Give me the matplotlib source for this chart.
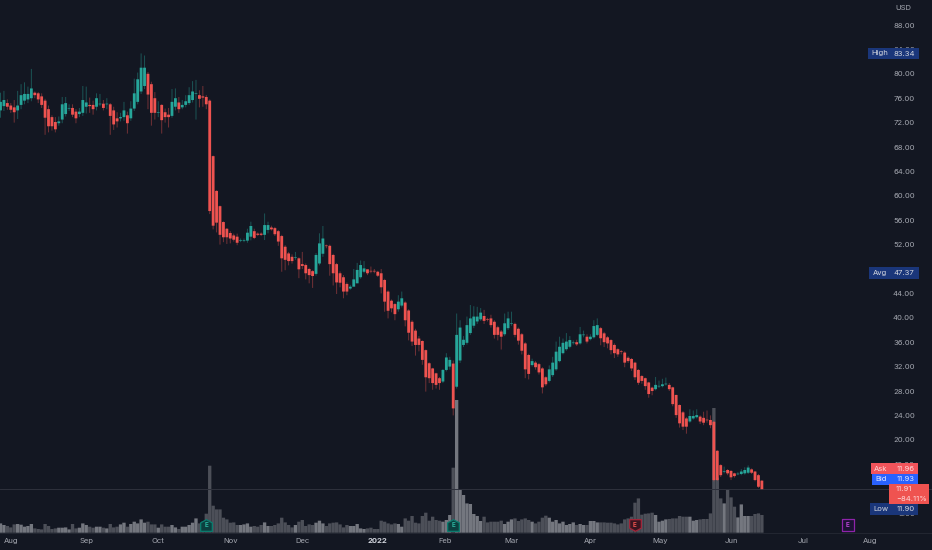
import matplotlib
matplotlib.use("Agg")
import matplotlib.pyplot as plt
from matplotlib.path import Path
from matplotlib.patches import Rectangle
from matplotlib.transforms import Affine2D

W, H = 932, 550
plt.rcParams['font.family'] = ['Inter', 'DejaVu Sans']

opens = [
74.0,74.7,75.2,74.8,74.5,74.0,74.9,75.6,75.8,76.0,
76.9,76.8,76.3,75.6,74.2,72.9,72.1,71.9,72.5,73.4,
74.3,74.4,73.8,73.4,73.6,74.6,74.9,74.9,74.6,75.0,
75.1,75.0,75.0,74.0,72.7,72.7,72.9,73.2,72.7,74.3,
75.4,77.1,78.0,80.0,78.3,76.0,73.6,74.9,73.7,73.3,
73.1,74.6,75.3,74.5,74.9,75.2,75.7,76.7,76.5,76.3,
76.2,75.6,66.5,60.8,58.3,55.7,54.6,53.9,53.5,53.3,
52.6,52.6,52.65,53.3,54.2,53.8,53.8,53.6,54.4,54.8,
54.7,54.2,53.4,51.65,50.55,50.0,49.8,49.75,48.8,48.65,
48.0,47.65,47.2,48.9,50.5,51.85,51.8,50.3,48.8,47.3,
46.65,45.55,44.8,45.1,45.65,46.65,47.55,47.95,47.7,47.7,
47.55,47.3,46.2,44.3,42.8,42.25,41.4,42.0,42.5,41.2,
39.35,37.9,36.6,36.2,34.7,32.55,31.7,30.9,30.1,29.55,
31.45,32.0,32.5,28.7,33.0,35.55,35.9,37.5,38.7,39.4,
39.75,40.3,39.8,39.9,39.35,38.45,37.75,37.3,38.3,39.05,
39.0,38.2,37.3,35.8,33.9,32.25,32.65,32.4,31.7,30.25,
29.65,30.6,31.55,32.9,34.2,34.85,35.25,35.85,36.0,35.8,
37.15,36.9,36.5,36.8,37.2,38.3,37.45,36.8,36.35,35.55,
34.85,34.5,34.3,33.45,33.25,32.65,31.45,30.45,30.1,29.4,
28.55,28.3,28.75,28.8,29.1,29.0,28.6,27.35,25.7,24.5,
23.5,23.0,23.5,23.7,23.8,23.6,23.3,23.25,22.95,18.2,
15.85,14.75,15.05,14.9,14.5,14.35,14.4,14.5,14.6,15.15,
14.8,14.2,13.3]

closes = [
75.4,75.7,74.6,74.1,73.7,74.8,76.5,76.7,76.7,77.6,
76.5,75.8,74.9,72.8,71.4,71.4,70.9,72.2,75.0,75.2,
74.4,73.3,72.7,73.8,75.7,75.3,74.7,74.2,76.0,75.1,
74.4,75.1,73.1,71.7,72.2,72.9,74.0,71.9,74.3,76.8,
79.1,81.0,81.0,76.6,73.6,73.6,73.7,72.4,72.9,72.9,
75.4,76.0,74.2,74.9,75.5,76.5,77.1,76.8,75.9,76.1,
75.0,57.5,55.1,55.6,53.6,53.2,53.2,53.0,52.8,52.3,
52.7,52.7,53.95,55.05,53.1,53.6,53.6,55.2,55.2,54.5,
53.7,52.5,49.75,49.5,49.3,49.3,49.9,47.95,48.5,47.3,
47.0,46.85,50.3,52.2,53.0,51.75,48.8,47.3,45.8,45.75,
44.3,44.3,45.1,46.3,47.85,48.65,48.1,47.3,47.6,47.6,
46.9,45.0,42.65,41.15,41.55,40.6,42.65,43.2,39.6,37.55,
36.1,35.55,35.55,33.1,30.25,30.1,29.3,29.0,29.3,31.45,
33.5,33.1,25.15,37.2,38.4,36.4,38.8,39.9,40.2,40.2,
40.85,39.5,39.7,38.8,37.2,37.2,36.9,39.1,39.9,39.15,
37.2,36.25,34.6,31.55,30.8,32.9,31.9,31.05,28.6,29.1,
31.55,32.65,34.45,35.25,35.9,36.1,36.35,35.95,35.65,37.3,
37.25,36.1,36.9,38.65,38.8,36.65,36.0,35.8,34.7,34.2,
34.0,34.4,32.65,32.9,31.7,30.25,29.35,29.65,28.8,27.5,
28.0,29.0,28.85,29.1,29.2,28.3,25.85,24.05,22.7,22.15,
22.15,23.9,23.9,24.05,23.0,22.8,23.2,22.4,13.4,13.4,
14.2,14.85,14.5,13.85,14.05,14.45,14.8,15.05,15.45,14.6,
13.4,12.3,11.91]

highs = [
76.9,77.2,75.8,75.2,75.7,77.2,78.3,78.6,77.9,80.8,
77.1,77.0,76.8,75.9,74.8,73.2,72.9,73.0,76.2,76.2,
75.0,75.0,74.2,74.4,78.0,77.9,76.1,75.6,76.8,76.7,
75.7,76.0,75.2,74.6,73.7,73.6,75.4,73.8,75.5,79.2,
80.2,83.34,83.0,80.3,78.7,77.0,75.5,75.0,74.3,74.4,
77.5,77.6,76.2,75.7,76.5,77.8,78.8,79.0,77.3,78.0,
76.5,75.8,66.6,60.9,58.4,55.8,54.7,54.2,53.8,53.8,
53.0,53.0,54.6,55.75,54.6,54.0,54.0,57.1,55.75,55.1,
54.9,54.4,53.6,51.9,50.8,50.4,50.8,49.9,50.8,48.9,
48.2,47.8,50.6,53.85,55.05,52.0,52.0,50.5,49.0,47.6,
47.0,45.8,45.4,48.0,49.0,49.4,49.3,47.9,48.4,48.0,
47.7,48.0,46.4,44.5,43.0,42.4,43.7,44.3,42.7,41.4,
39.6,38.2,37.0,36.3,34.8,32.7,31.8,31.0,30.3,31.6,
34.2,33.6,33.0,40.7,39.6,37.0,40.2,42.1,41.9,41.8,
41.6,41.3,40.0,40.5,39.6,38.7,38.0,40.7,41.0,41.0,
39.2,38.4,37.5,36.0,34.1,33.3,32.9,32.6,31.9,30.4,
32.2,33.6,36.1,36.9,36.6,37.5,37.0,36.3,36.4,38.5,
37.9,37.3,37.3,39.6,39.9,38.5,37.7,37.0,36.5,35.8,
35.0,34.7,34.5,33.7,33.4,32.8,31.6,30.6,30.2,29.5,
28.7,30.3,29.7,30.0,30.2,29.3,28.7,27.4,25.8,24.7,
23.7,25.0,24.8,25.0,24.0,24.6,24.8,24.0,23.1,18.3,
16.0,15.6,15.2,15.0,14.6,14.7,15.2,15.5,15.8,15.3,
14.9,14.4,13.4]

lows = [
72.8,73.9,74.1,73.6,72.0,72.6,74.2,75.0,75.2,75.5,
76.0,75.2,74.4,70.0,70.4,70.7,70.4,71.5,71.9,73.0,
73.9,72.9,71.9,72.9,73.1,73.5,73.6,73.3,74.0,74.7,
74.0,74.2,70.0,70.8,71.2,72.2,72.3,70.2,72.3,73.9,
75.0,76.7,77.5,74.2,71.5,72.5,72.9,70.2,72.0,71.2,
72.8,74.0,73.6,74.2,74.5,74.9,75.3,72.5,74.5,74.6,
74.2,57.0,54.5,54.0,52.0,52.4,52.1,52.2,52.5,51.9,
52.4,52.4,52.3,52.7,52.9,53.4,53.4,52.75,53.85,54.3,
53.4,51.8,47.55,47.8,48.6,48.9,49.5,46.5,48.0,46.3,
45.65,44.9,46.9,48.6,50.0,51.4,46.9,45.3,43.9,45.0,
43.2,43.7,44.6,45.9,47.4,46.4,47.3,47.0,47.3,47.3,
46.7,44.0,41.0,39.9,40.9,39.6,41.0,41.7,38.6,36.3,
35.4,33.8,34.5,32.3,27.9,29.3,28.2,28.4,28.2,29.3,
31.2,31.5,24.0,28.4,32.6,35.2,35.6,37.2,38.3,39.0,
39.5,39.0,39.4,38.4,36.6,36.3,34.8,37.0,38.0,38.7,
36.8,35.6,34.0,30.1,29.9,32.0,31.5,30.7,27.6,28.8,
29.4,30.3,31.3,32.7,34.0,34.6,35.0,35.6,35.4,35.6,
36.8,35.8,36.3,36.6,37.0,35.5,35.2,35.0,34.0,33.4,
33.6,34.0,31.9,32.6,31.3,29.8,29.0,29.2,28.2,26.9,
27.3,28.1,28.5,28.6,28.9,28.0,25.5,23.6,22.0,21.6,
21.0,22.8,23.3,23.5,22.6,22.4,22.8,21.9,13.2,13.3,
13.9,14.5,14.2,13.4,13.8,14.2,14.2,14.3,14.4,14.4,
13.2,12.1,11.9]

volumes = [
9.3,7.7,6.7,5.3,8.3,8.7,8,6,6.7,8.7,
4.3,3.7,3.3,8.7,6.7,3.7,4.3,5,5,5.3,
3.3,8.7,4.3,5,9.3,7.7,6,5,6,6,
5,4.3,8.7,5.3,6,8.3,10,6,8.7,11,
9.3,13.3,10,11,8.3,8.3,5,8.3,6,6,
7.7,5.3,3.7,6,6,7.7,10,14.3,9.3,11,
19,67,27,23.3,23.3,15,13.3,10,10.3,7.7,
7.7,8.3,9.3,6,6.7,6,7.7,10.3,6.7,6.7,
7.7,9.3,15,10.3,7.7,5.3,7.7,11,12.7,6.7,
8.3,7.7,10,12,9.3,6.7,9.3,10,10.3,8.3,
5.3,7.7,6.7,6.7,8.7,4.3,3.7,4.3,5,3.7,
3.7,12,11,9.3,8.3,9.3,8.7,6,14.3,12,
16.7,10,9.3,16.7,20,12,16,12.7,12,11,
12.7,17.7,65,132.7,42.7,37.7,29.3,28.7,18.7,16.7,
11.7,16,10.3,11,11,11,12,8.7,11,13.3,
14.3,11.7,13.3,14.3,12.7,11,9.3,11,15,17,
15,11,12.7,9.3,11,7.7,8.7,10.3,7.7,8.7,
7.7,7.7,11.7,11.7,10.3,10.3,10.3,10,10,9.3,
8.3,9.3,13.3,14.3,16,30,34.3,18,19,19.3,
20,17.7,11,12,13.3,13.7,14.3,14.3,16.7,16,
16,16,12,12.7,13.3,13.7,13.7,19.3,124.7,55,
34.3,29.3,42.7,35.3,26,15.3,28.3,16.7,16.7,16.7,
18.7,19.3,17.7]

price_ticks = [8, 12, 16, 20, 24, 28, 32, 36, 40, 44, 48, 52, 56, 60, 64, 68, 72, 76, 80, 84, 88]
time_ticks = [3.0, 25.0, 46.0, 67.0, 88.0, 110.0, 129.7, 149.0, 172.0, 192.4, 213.0, 234.0, 253.6]
time_labels = ['Aug', 'Sep', 'Oct', 'Nov', 'Dec', '2022', 'Feb', 'Mar', 'Apr', 'May', 'Jun', 'Jul', 'Aug']
earn_bars = [60, 132, 185, 247]
earn_kinds = ['up', 'up', 'down', 'future']

high_value, avg_value, low_value, last_value = 83.34, 47.37, 11.90, 11.91
ask_value, bid_value, change_pct = 11.96, 11.93, -84.11

BG, UP, DOWN = '#131722', '#26a69a', '#ef5350'
VOL_UP, VOL_DOWN = '#74777f', '#4c4f58'
TXT = '#a4a7b0'
FS = 5.5

fig = plt.figure(figsize=(W / 100, H / 100), dpi=100, facecolor=BG)

# pixel helpers for layout only
px = Affine2D().scale(1, -1).translate(0, H)
base_px = 532.7

# volume pane (behind)
axv = fig.add_axes([0, (H - base_px) / H, 1, base_px / H], zorder=1)
axv.set_facecolor(BG)
n = len(closes)
xs = list(range(n))
vol_cols = [VOL_UP if c >= o else VOL_DOWN for o, c in zip(opens, closes)]
vb = axv.bar(xs, volumes, width=0.97, color=vol_cols, linewidth=0)
for r in vb:
    r.set_snap(False)
xlim = (-0.146, 271.6)
axv.set_xlim(*xlim)
axv.set_ylim(0, base_px)
axv.set_xticks([]); axv.set_yticks([])
for k, s in axv.spines.items():
    s.set_visible(k == 'bottom')
    s.set_color('#232732'); s.set_linewidth(0.7)

# price pane
ax = fig.add_axes([0, 0, 1, 1], zorder=2)
ax.patch.set_visible(False)
ax.set_xlim(*xlim)
ax.set_ylim(88 - (H - 25) / 6.1, 88 + 25 / 6.1)
for s in ax.spines.values():
    s.set_visible(False)

cols = [UP if c >= o else DOWN for o, c in zip(opens, closes)]
wicks = ax.vlines(xs, lows, highs, colors=cols, linewidth=0.72, alpha=0.42, zorder=3)
wicks.set_snap(False)
bodies = ax.bar(xs, [abs(c - o) for o, c in zip(opens, closes)],
                bottom=[min(o, c) for o, c in zip(opens, closes)],
                width=0.82, color=cols, linewidth=0, zorder=4)
for r in bodies:
    r.set_snap(False)
ax.axhline(last_value, color='#2e313c', linewidth=0.7, zorder=2)

ax.yaxis.tick_right()
ax.set_yticks(price_ticks, [f'{v:.2f}' for v in price_ticks])
ax.tick_params(axis='y', length=0, pad=-12.4, labelsize=FS, labelcolor=TXT)
for t in ax.get_yticklabels():
    t.set_ha('right')
ax.set_xticks(time_ticks, time_labels)
ax.tick_params(axis='x', length=0, pad=-8.4, labelsize=FS, labelcolor=TXT)
for t in ax.get_xticklabels():
    if t.get_text() == '2022':
        t.set_fontweight('bold')
        t.set_color('#d1d4dc')

# earnings markers
shape_up = Path([(-1, -1), (1, -1), (1, .45), (0, 1), (-1, .45), (-1, -1)], closed=True)
shape_dn = Path([(-1, 1), (1, 1), (1, -.45), (0, -1), (-1, -.45), (-1, 1)], closed=True)
shape_sq = Path([(-1, -1), (1, -1), (1, 1), (-1, 1), (-1, -1)], closed=True)
styles = {'up': (shape_up, '#0c3f3f', '#0b7e70', '#2bb5a0'),
          'down': (shape_dn, '#3a1520', '#a3263a', '#ef5350'),
          'future': (shape_sq, '#1c1233', '#8e24aa', '#ba45d6')}
earn_y = 88 - (525.3 - 25) / 6.1
for b, k in zip(earn_bars, earn_kinds):
    m, fc, ec, tc = styles[k]
    ax.plot([b], [earn_y], marker=m, ms=8.4, mfc=fc, mec=ec, mew=0.9, ls='none', zorder=6)
    ax.text(b, earn_y, 'E', color=tc, fontsize=4.5, fontweight='bold',
            ha='center', va='center', zorder=7)

# price-scale labels
def tag(x0, x1, y0, y1, color, left=None, right=None, tc='#d5d8e0', zo=10):
    fig.add_artist(Rectangle((x0, y0), x1 - x0, y1 - y0, transform=px,
                             facecolor=color, edgecolor='none', zorder=zo))
    ym = (y0 + y1) / 2
    if left:
        fig.add_artist(plt.Text(x0 + 3.5, ym, left, color=tc, fontsize=FS, ha='left', va='center',
                                transform=px, zorder=zo + 1))
    if right:
        fig.add_artist(plt.Text(914.7, ym, right, color=tc, fontsize=FS, ha='right', va='center',
                                transform=px, zorder=zo + 1))

def plain(x, y, s, c, zo=13):
    fig.add_artist(plt.Text(x, y, s, color=c, fontsize=FS, ha='left', va='center', transform=px, zorder=zo))

BLUE = '#1a367a'
tag(867.5, 919.3, 47.8, 59.2, BLUE, 'High', f'{high_value:.2f}')
tag(869, 919.3, 267.2, 278.6, BLUE, 'Avg', f'{avg_value:.2f}')
tag(870, 917.7, 503.4, 514.8, BLUE, 'Low', f'{low_value:.2f}')
tag(870.7, 918.3, 463.3, 474.2, '#f2545b', 'Ask', f'{ask_value:.2f}', tc='#ffd9da')
tag(872, 918.3, 474.2, 484.7, '#2962ff', 'Bid', f'{bid_value:.2f}', tc='#e3e9ff')
fig.add_artist(Rectangle((889.3, 484.2), 39.7, 19.6, transform=px,
                         facecolor='#ef5350', edgecolor='none', zorder=12))
plain(896, 489.3, f'{last_value:.2f}', '#ffd9da')
plain(896, 498.6, f'\u2212{abs(change_pct):.2f}%', '#ffd9da')
plain(895.8, 8, 'USD', TXT)

fig.savefig('out.png', dpi=100, facecolor=BG)
